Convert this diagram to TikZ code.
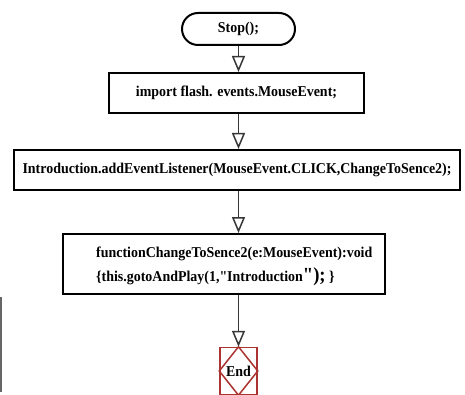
\documentclass[tikz,border=0pt]{standalone}
\usepackage{fontspec}
\setmainfont{Liberation Serif}
% plain family without TeX ligature mapping, so " stays a straight quote
\newfontfamily\codefont{Liberation Serif}[FakeStretch=0.93]
\usetikzlibrary{arrows.meta}
\definecolor{endred}{RGB}{172,52,48}
\definecolor{flowgray}{RGB}{55,55,55}
\tikzset{
  codetext/.style={font=\codefont\fontsize{15}{24}\selectfont\bfseries},
  codebox/.style={codetext, draw=black, line width=2pt, fill=white, inner sep=0pt},
  flow/.style={draw=flowgray, line width=1.5pt,
    -{Triangle[open, length=16pt, width=13pt, line width=1.5pt]}},
}
\begin{document}
\begin{tikzpicture}[x=1pt, y=-1pt]
  \useasboundingbox (0,0) rectangle (465,395);

  % start terminal
  \node[codebox, rounded corners=16pt, minimum width=113pt, minimum height=32pt]
    (stop) at (238.5,29) {Stop();};

  % statements
  \node[codebox, minimum width=255pt, minimum height=40pt]
    (imp) at (236.5,93) {import flash. events.MouseEvent;};
  \node[codebox, minimum width=446pt, minimum height=40pt]
    (intro) at (237,170) {Introduction.addEventListener(MouseEvent.CLICK,ChangeToSence2);};

  % handler function box with left-aligned code
  \node[codebox, minimum width=322pt, minimum height=60pt] (func) at (224,264) {};
  \node[codetext, anchor=west, align=left, inner sep=0pt] (functext) at (96,266)
    {functionChangeToSence2(e:MouseEvent):void\\
     \{this.gotoAndPlay(1,"Introduction{\fontsize{20}{20}\selectfont");} \}};

  % end terminal: red box with inscribed diamond
  \node[codetext, draw=endred, line width=1.5pt, minimum width=37pt,
    minimum height=47pt, inner sep=0pt] (endnode) at (238.5,371) {End};
  \draw[endred, line width=1.5pt] (endnode.north) -- (endnode.east)
    -- (endnode.south) -- (endnode.west) -- cycle;

  % connectors
  \draw[flow] (stop.south) -- (stop.south |- imp.north);
  \draw[flow] (stop.south |- imp.south) -- (stop.south |- intro.north);
  \draw[flow] (stop.south |- intro.south) -- (stop.south |- func.north);
  \draw[flow] (stop.south |- func.south) -- (endnode.north);

  % stray margin rule at the lower left
  \draw[gray!80!black, line width=1.5pt] (1,297) -- (1,392);
\end{tikzpicture}
\end{document}
